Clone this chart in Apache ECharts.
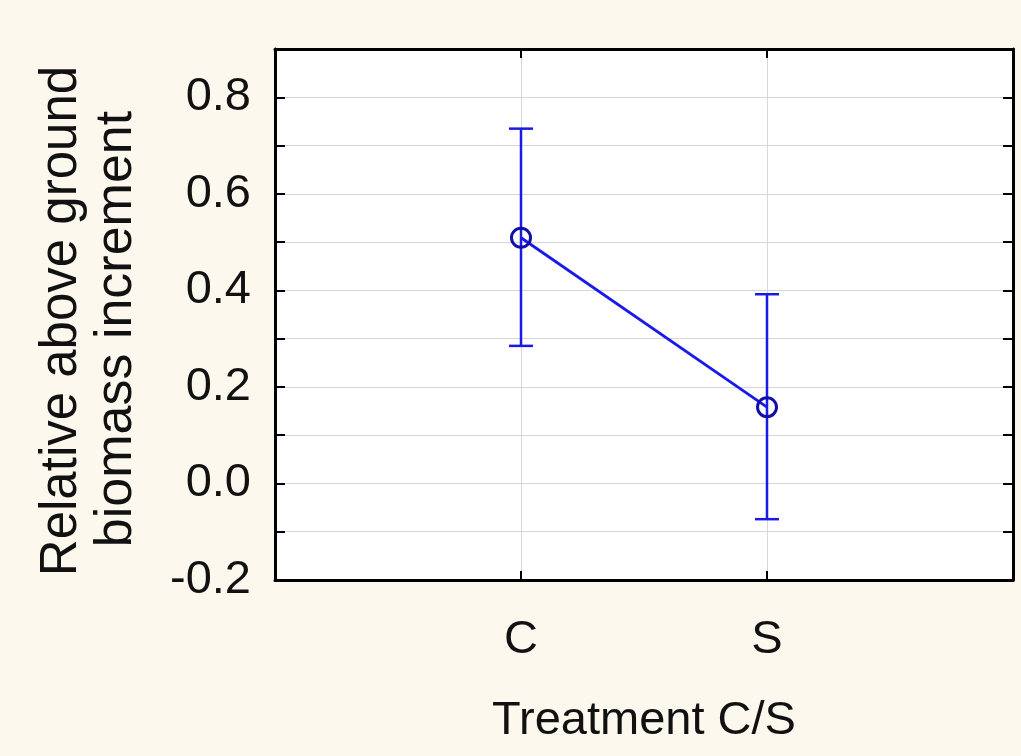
<!DOCTYPE html>
<html>
<head>
<meta charset="utf-8">
<script src="https://cdn.jsdelivr.net/npm/echarts@6/dist/echarts.min.js"></script>
<style>
html,body{margin:0;padding:0;background:#fcf8ee;}
#chart{width:1021px;height:756px;}
</style>
</head>
<body>
<div id="chart"></div>
<script>
// Data
var categories = ['C', 'S'];
var means = [0.509, 0.158];
var upper = [0.735, 0.392];
var lower = [0.285, -0.074];
var yTickLabels = ['-0.2', '0.0', '0.2', '0.4', '0.6', '0.8'];
var xTitle = 'Treatment C/S';
var yTitle = ['Relative above ground', 'biomass increment'];

var FONT = '"Liberation Sans", Arial, sans-serif';
var chart = echarts.init(document.getElementById('chart'));

var lineData = means.map(function (m, i) { return [i, m]; });
var errData = means.map(function (m, i) { return [i, lower[i], upper[i]]; });

function yLabelFmt(v) {
  var s = v.toFixed(1);
  if (s === '-0.0') s = '0.0';
  return yTickLabels.indexOf(s) >= 0 ? s : '';
}
function xLabelFmt(v) {
  var i = Math.round(v);
  return (Math.abs(v - i) < 1e-6 && categories[i] !== undefined) ? categories[i] : '';
}

var option = {
  backgroundColor: '#fcf8ee',
  animation: false,
  grid: {
    left: 275, right: 8, top: 49, bottom: 176,
    show: true, backgroundColor: '#ffffff', borderWidth: 0
  },
  xAxis: [{
    type: 'value', min: -1, max: 2, interval: 1, position: 'bottom',
    axisLine: { show: true, onZero: false, lineStyle: { color: '#000', width: 3 } },
    axisTick: { show: true, inside: true, length: 9, lineStyle: { color: '#000', width: 2 } },
    axisLabel: { formatter: xLabelFmt, fontSize: 47, fontFamily: FONT, color: '#111', margin: 37 },
    splitLine: { show: true, lineStyle: { color: '#d6d6d6', width: 1 } },
    name: xTitle, nameLocation: 'middle', nameGap: 118,
    nameTextStyle: { fontSize: 47, fontFamily: FONT, color: '#111' }
  }, {
    type: 'value', min: -1, max: 2, interval: 1, position: 'top',
    axisLine: { show: true, onZero: false, lineStyle: { color: '#000', width: 3 } },
    axisTick: { show: true, inside: true, length: 9, lineStyle: { color: '#000', width: 2 } },
    axisLabel: { show: false }, splitLine: { show: false }
  }],
  yAxis: [{
    type: 'value', min: -0.2, max: 0.9, interval: 0.1, position: 'left',
    axisLine: { show: true, onZero: false, lineStyle: { color: '#000', width: 3 } },
    axisTick: { show: true, inside: true, length: 10, lineStyle: { color: '#000', width: 2 } },
    axisLabel: { formatter: yLabelFmt, fontSize: 47, fontFamily: FONT, color: '#111', margin: 24 },
    splitLine: { show: true, lineStyle: { color: '#d6d6d6', width: 1 } }
  }, {
    type: 'value', min: -0.2, max: 0.9, interval: 0.1, position: 'right',
    axisLine: { show: true, onZero: false, lineStyle: { color: '#000', width: 3 } },
    axisTick: { show: true, inside: true, length: 10, lineStyle: { color: '#000', width: 2 } },
    axisLabel: { show: false }, splitLine: { show: false }
  }],
  graphic: [{
    type: 'text',
    x: 62, y: 321, rotation: Math.PI / 2,
    style: {
      text: yTitle[0], fill: '#111', font: '51px ' + FONT,
      align: 'center', verticalAlign: 'middle'
    }
  }, {
    type: 'text',
    x: 117, y: 329, rotation: Math.PI / 2,
    style: {
      text: yTitle[1], fill: '#111', font: '52px ' + FONT,
      align: 'center', verticalAlign: 'middle'
    }
  }],
  series: [{
    type: 'custom',
    xAxisIndex: 0, yAxisIndex: 0,
    data: errData,
    renderItem: function (params, api) {
      var x = api.value(0);
      var lo = api.coord([x, api.value(1)]);
      var hi = api.coord([x, api.value(2)]);
      var hw = 12;
      var st = { stroke: '#1a1ae8', lineWidth: 2.5 };
      return {
        type: 'group',
        children: [
          { type: 'line', shape: { x1: lo[0], y1: lo[1], x2: hi[0], y2: hi[1] }, style: st },
          { type: 'line', shape: { x1: hi[0] - hw, y1: hi[1], x2: hi[0] + hw, y2: hi[1] }, style: st },
          { type: 'line', shape: { x1: lo[0] - hw, y1: lo[1], x2: lo[0] + hw, y2: lo[1] }, style: st }
        ]
      };
    },
    z: 3
  }, {
    type: 'line',
    xAxisIndex: 0, yAxisIndex: 0,
    data: lineData,
    lineStyle: { color: '#1a1ae8', width: 2.8 },
    symbol: 'circle', symbolSize: 19,
    itemStyle: { color: 'rgba(255,255,255,0)', borderColor: '#1010a8', borderWidth: 3 },
    z: 4
  }]
};
chart.setOption(option);
</script>
</body>
</html>
